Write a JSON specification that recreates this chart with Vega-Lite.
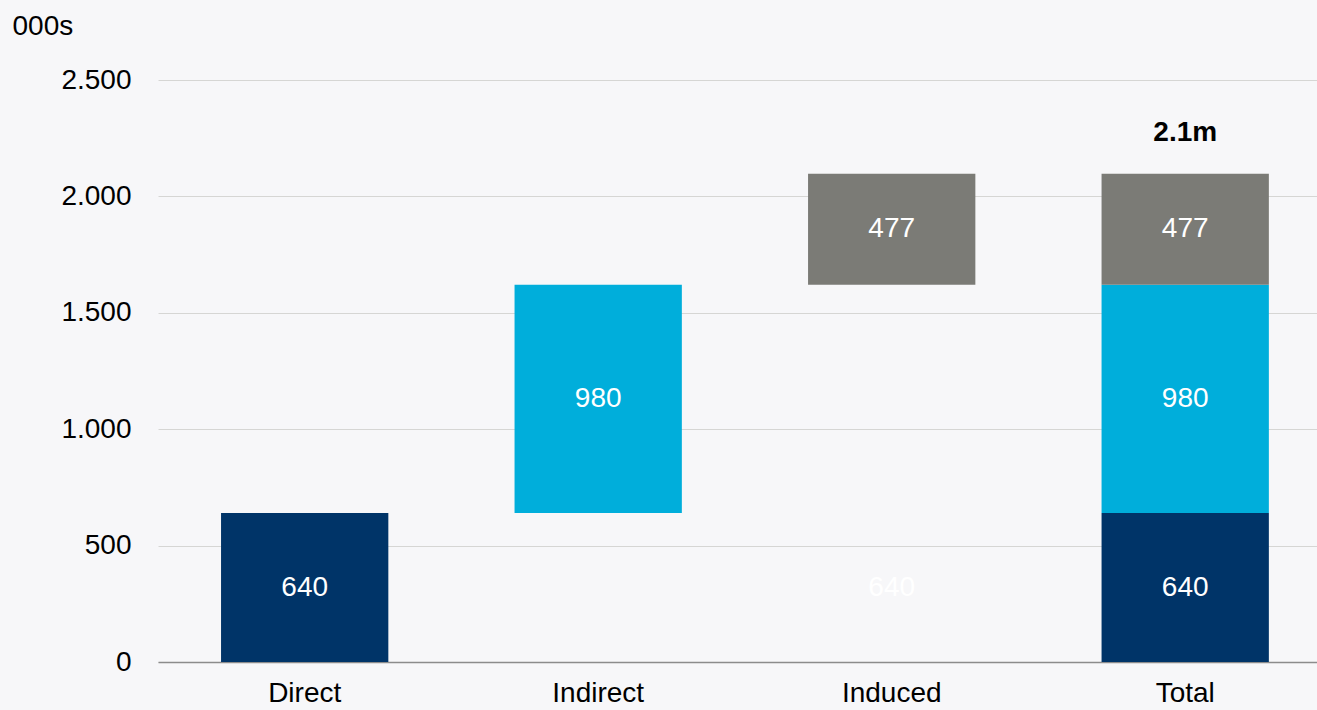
{
  "$schema": "https://vega.github.io/schema/vega-lite/v6.json",
  "width": 1159,
  "height": 582,
  "autosize": {"type": "none"},
  "padding": {"left": 158, "top": 80, "right": 0, "bottom": 48},
  "background": "#f7f7f9",
  "config": {
    "view": {"stroke": null},
    "font": "Liberation Sans",
    "text": {"font": "Liberation Sans"}
  },
  "data": {
    "values": [
      {"cat": "Direct", "seg": "Direct", "start": 0, "end": 640, "value": 640},
      {"cat": "Indirect", "seg": "Indirect", "start": 640, "end": 1620, "value": 980},
      {"cat": "Induced", "seg": "Ghost", "start": 0, "end": 640, "value": 640},
      {"cat": "Induced", "seg": "Induced", "start": 1620, "end": 2097, "value": 477},
      {"cat": "Total", "seg": "Direct", "start": 0, "end": 640, "value": 640},
      {"cat": "Total", "seg": "Indirect", "start": 640, "end": 1620, "value": 980},
      {"cat": "Total", "seg": "Induced", "start": 1620, "end": 2097, "value": 477}
    ]
  },
  "encoding": {
    "x": {
      "field": "cat",
      "type": "nominal",
      "sort": ["Direct", "Indirect", "Induced", "Total"],
      "scale": {"paddingInner": 0.43, "paddingOuter": 0.1894, "align": 0.567},
      "axis": {
        "title": null,
        "labelAngle": 0,
        "labelFontSize": 28,
        "labelColor": "#000000",
        "labelPadding": 17,
        "ticks": false,
        "domainColor": "#8c8c8c",
        "domainWidth": 1.5
      }
    }
  },
  "layer": [
    {
      "mark": {"type": "bar"},
      "encoding": {
        "y": {
          "field": "start",
          "type": "quantitative",
          "scale": {"domain": [0, 2500], "nice": false},
          "axis": {
            "values": [0, 500, 1000, 1500, 2000, 2500],
            "labelExpr": "replace(format(datum.value, ','), ',', '.')",
            "labelFontSize": 28,
            "labelColor": "#000000",
            "labelPadding": 27,
            "ticks": false,
            "domain": false,
            "gridColor": "#d6d6d4",
            "gridWidth": 1,
            "title": "000s",
            "titleAngle": 0,
            "titleX": -146,
            "titleY": -54,
            "titleAlign": "left",
            "titleBaseline": "middle",
            "titleFontSize": 28,
            "titleFontWeight": "normal",
            "titleColor": "#000000"
          }
        },
        "y2": {"field": "end"},
        "color": {
          "field": "seg",
          "type": "nominal",
          "scale": {
            "domain": ["Direct", "Indirect", "Induced", "Ghost"],
            "range": ["#003468", "#00aedb", "#7b7b76", "transparent"]
          },
          "legend": null
        }
      }
    },
    {
      "transform": [{"calculate": "(datum.start + datum.end) / 2", "as": "mid"}],
      "mark": {"type": "text", "color": "#ffffff", "fontSize": 28, "baseline": "middle", "align": "center"},
      "encoding": {
        "y": {"field": "mid", "type": "quantitative"},
        "text": {"field": "value", "type": "quantitative"}
      }
    },
    {
      "transform": [{"filter": "datum.cat === 'Total' && datum.seg === 'Induced'"}],
      "mark": {"type": "text", "color": "#000000", "fontSize": 28, "fontWeight": "bold", "baseline": "middle", "align": "center", "dy": -41},
      "encoding": {
        "y": {"field": "end", "type": "quantitative"},
        "text": {"value": "2.1m"}
      }
    }
  ]
}
